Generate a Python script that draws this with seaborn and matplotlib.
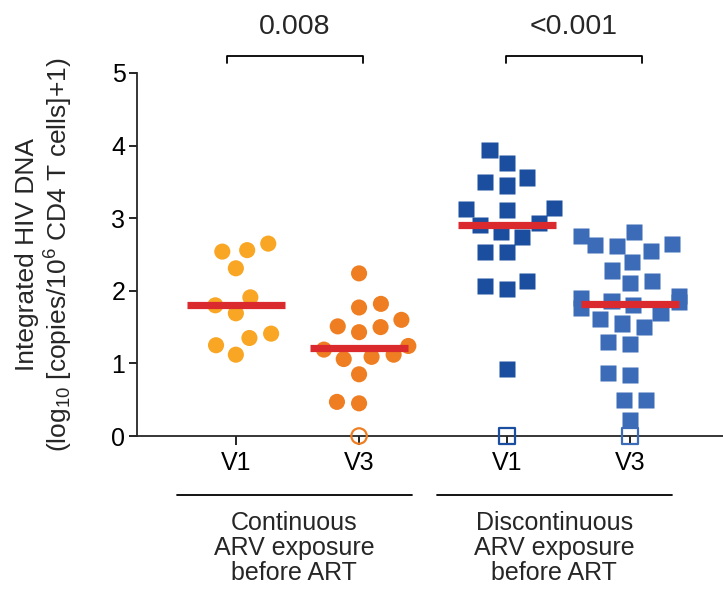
import numpy as np
import pandas as pd
import matplotlib
matplotlib.use("Agg")
import matplotlib.pyplot as plt
import matplotlib.transforms as mtransforms
import seaborn as sns

# ---------------- data ----------------
groups = ["Continuous V1", "Continuous V3", "Discontinuous V1", "Discontinuous V3"]
tick_labels = ["V1", "V3", "V1", "V3"]
cont_v1 = [2.65, 2.56, 2.54, 2.31, 1.91, 1.80, 1.69, 1.41, 1.35, 1.25, 1.12]
cont_v3 = [2.24, 1.82, 1.77, 1.60, 1.51, 1.50, 1.43, 1.24, 1.19, 1.12, 1.09,
           1.06, 0.85, 0.47, 0.45, 0.0]
disc_v1 = [3.94, 3.76, 3.56, 3.50, 3.45, 3.14, 3.13, 3.11, 2.93, 2.91, 2.81,
           2.74, 2.54, 2.53, 2.14, 2.07, 2.03, 0.92, 0.0]
disc_v3 = [2.81, 2.75, 2.64, 2.63, 2.62, 2.55, 2.40, 2.28, 2.13, 2.11, 1.93,
           1.90, 1.86, 1.85, 1.80, 1.76, 1.69, 1.61, 1.55, 1.50, 1.30, 1.27,
           0.87, 0.84, 0.50, 0.50, 0.22, 0.0]
p_values = ["0.008", "<0.001"]
exposure_labels = ["Continuous\nARV exposure\nbefore ART",
                   "Discontinuous\nARV exposure\nbefore ART"]

# ---------------- style ----------------
sns.set_style("ticks")
plt.rcParams["font.family"] = ["Liberation Sans", "DejaVu Sans"]
plt.rcParams["mathtext.fontset"] = "custom"
plt.rcParams["mathtext.rm"] = "Liberation Sans"
plt.rcParams["mathtext.it"] = "Liberation Sans:italic"
plt.rcParams["axes.linewidth"] = 1.3

colors = {"Continuous V1": "#F8A623", "Continuous V3": "#EF7E22",
          "Discontinuous V1": "#1B4E9E", "Discontinuous V3": "#3C6BB7"}
markers = {"Continuous V1": "o", "Continuous V3": "o",
           "Discontinuous V1": "s", "Discontinuous V3": "s"}
positions = {"Continuous V1": 1.0, "Continuous V3": 2.0,
             "Discontinuous V1": 3.2, "Discontinuous V3": 4.2}
median_color = "#DA2A2E"

series = dict(zip(groups, [cont_v1, cont_v3, disc_v1, disc_v3]))
df = pd.DataFrame([(g, positions[g], v) for g in groups for v in series[g]],
                  columns=["group", "pos", "value"])

fig = plt.figure(figsize=(7.23, 6.01), dpi=100)
ax = fig.add_axes([137.3 / 723, 165 / 601, (723 - 137.3) / 723, 363 / 601])

msize = 11.6
for mk in ["o", "s"]:
    sub = df[(df["group"].map(markers) == mk) & (df["value"] > 0)]
    # transparent edge widens the swarm spacing like the original layout
    sns.swarmplot(data=sub, x="pos", y="value", hue="group", palette=colors,
                  native_scale=True, size=msize, marker=mk, linewidth=3.6,
                  edgecolor=(1, 1, 1, 0), legend=False, ax=ax, zorder=3)

# open markers for undetectable (zero) values
zeros = df[df["value"] == 0]
for _, r in zeros.iterrows():
    sns.scatterplot(x=[r["pos"]], y=[r["value"]], marker=markers[r["group"]],
                    s=(msize - 0.5) ** 2, facecolor="none",
                    edgecolor=colors[r["group"]], linewidth=1.6,
                    clip_on=False, ax=ax, zorder=4)

# medians
for g in groups:
    m = np.median(series[g])
    ax.hlines(m, positions[g] - 0.4, positions[g] + 0.4, color=median_color,
              linewidth=5.2, zorder=5)

ax.set_xlim(0.2, 4.954)
ax.set_ylim(0, 5)
ax.set_yticks([0, 1, 2, 3, 4, 5])
ax.set_xticks([positions[g] for g in groups])
ax.set_xticklabels(tick_labels)
ax.set_xlabel("")
ax.tick_params(axis="y", labelsize=18, length=5.5, width=1.2, pad=3,
               colors="black")
ax.tick_params(axis="x", labelsize=18, length=6.5, width=1.2, pad=4,
               colors="black")
for s in ["top", "right"]:
    ax.spines[s].set_visible(False)

ax.set_ylabel("Integrated HIV DNA\n"
              r"(log$_{\mathregular{10}}$ [copies/10$^{\mathregular{6}}$ CD4 T cells]+1)",
              fontsize=19, linespacing=1.15)
ax.yaxis.set_label_coords((75 - 137.3) / 585.7, 0.5)

trans = mtransforms.blended_transform_factory(ax.transData, ax.transAxes)

# significance brackets
brackets = [(0.926, 2.03), (3.19, 4.30)]
for (x0, x1), p in zip(brackets, p_values):
    ax.plot([x0, x0, x1, x1], [1.0267, 1.0477, 1.0477, 1.0267], color="black",
            linewidth=1.3, transform=trans, clip_on=False)
    ax.text((x0 + x1) / 2, 1.128, p, transform=trans, ha="center",
            va="center", fontsize=20.5)

# exposure group lines and labels
spans = [(0.52, 2.427), (2.63, 4.538)]
for (x0, x1), lab in zip(spans, exposure_labels):
    ax.plot([x0, x1], [-0.1625, -0.1625], color="black", linewidth=1.3,
            transform=trans, clip_on=False)
    ax.text((x0 + x1) / 2, -0.309, lab, transform=trans, ha="center",
            va="center", fontsize=18, linespacing=1.05)

fig.savefig("out.png", dpi=100)
